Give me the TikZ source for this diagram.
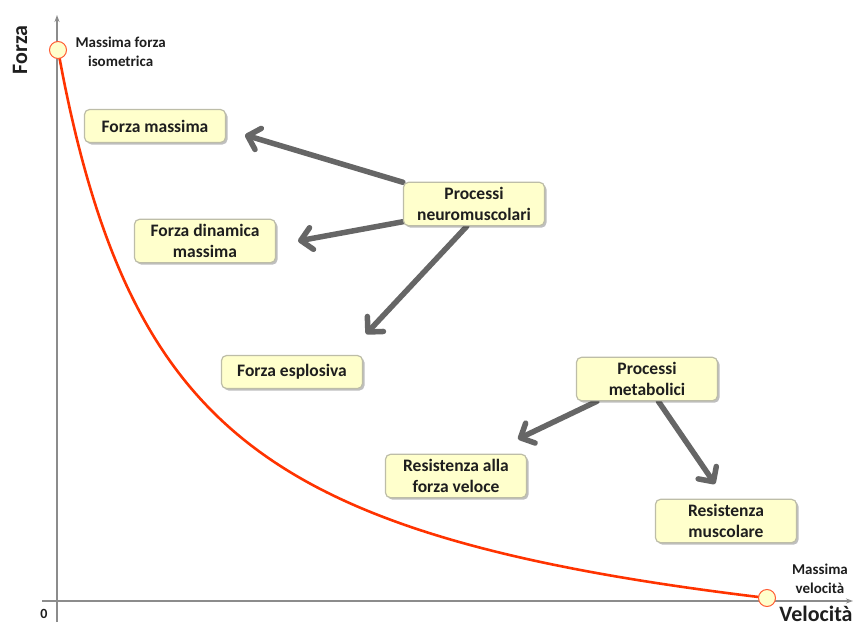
\documentclass[tikz,border=0pt]{standalone}
\usepackage{fontspec}
\setmainfont{Carlito}
\usepackage{tikz}
\usetikzlibrary{arrows.meta,shadows,backgrounds}

\definecolor{boxfill}{HTML}{FFFFCC}
\definecolor{boxline}{HTML}{BDBDA8}
\definecolor{arrgray}{HTML}{666666}
\definecolor{axgray}{HTML}{8C8C8C}
\definecolor{curvered}{HTML}{FF3300}
\definecolor{txt}{HTML}{1E1E1E}

\begin{document}
\begin{tikzpicture}[x=1pt,y=-1pt,>=Stealth,
  box/.style={draw=boxline,fill=boxfill,rounded corners=5pt,line width=1.2pt,
    minimum width=141pt,minimum height=33pt,inner ysep=5pt,align=center,
    text=txt,font=\bfseries\fontsize{17.5}{21}\selectfont,
    drop shadow={shadow xshift=2pt,shadow yshift=-2pt,fill=black,opacity=.25}},
  pfeil/.style={draw=arrgray,line width=5.5pt,line cap=round,
    -{Straight Barb[length=11pt,width=22pt,line cap=round,line join=round]}},
  dot/.style={circle,draw=curvered!80,fill=boxfill,line width=1pt,minimum size=17pt,inner sep=0pt},
  small/.style={text=txt,align=center,font=\bfseries\fontsize{15}{18.5}\selectfont}]
\useasboundingbox (0,0) rectangle (863,629);

% axes
\draw[axgray,line width=2pt,-{Stealth[length=7pt,width=5pt]}] (57,622) -- (57,15);
\draw[axgray,line width=2pt,-{Stealth[length=7pt,width=5pt]}] (42,601) -- (853,601);
\node[text=txt,font=\bfseries\fontsize{14}{14}\selectfont] (zero) at (44,614) {0};
\node[rotate=90,text=txt,font=\bfseries\fontsize{22}{22}\selectfont] (forza) at (20,50) {Forza};
\node[text=txt,font=\bfseries\fontsize{22}{22}\selectfont] (velo) at (816,614) {Velocità};

% curva forza-velocita
\draw[curvered,line width=2.6pt] plot[domain=1:710,samples=120,smooth]
  ({57+\x},{601-711.93/((\x+113)/100)+73.5+0.0141*\x});

\node[dot] (iso) at (58,50) {};
\node[dot] (vmax) at (767,598) {};
\node[small,anchor=west] (isolab) at (72,52) {Massima forza\\isometrica};
\node[small] (vmaxlab) at (820,579) {Massima\\velocità};

% riquadri
\node[box] (fmax) at (155,126) {Forza massima};
\node[box] (fdin) at (205,241) {Forza dinamica\\massima};
\node[box] (fexp) at (292,372) {Forza esplosiva};
\node[box] (rfv) at (456,476) {Resistenza alla\\forza veloce};
\node[box] (rmusc) at (726,521) {Resistenza\\muscolare};
\node[box] (neuro) at (474,204) {Processi\\neuromuscolari};
\node[box] (metab) at (647,379) {Processi\\metabolici};

\coordinate (t1) at (245,135);
\coordinate (t2) at (298,241);
\coordinate (t3) at (366,334);
\coordinate (t4) at (518,439);
\coordinate (t5) at (715,484);

\begin{scope}[on background layer]
\draw[pfeil] (neuro.163) -- (t1);
\draw[pfeil] (neuro.194) -- (t2);
\draw[pfeil] (neuro.252) -- (t3);
\draw[pfeil] (metab.204) -- (t4);
\draw[pfeil] (metab.297) -- (t5);
\end{scope}
\end{tikzpicture}
\end{document}
